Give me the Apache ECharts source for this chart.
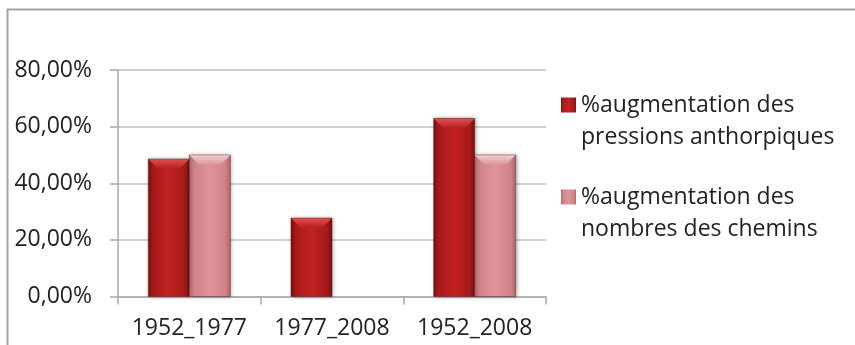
<!DOCTYPE html>
<html><head><meta charset="utf-8">
<script src="https://cdn.jsdelivr.net/npm/echarts@6/dist/echarts.min.js"></script>
<style>html,body{margin:0;padding:0;background:#fff}#c{width:855px;height:345px}</style>
</head><body><div id="c"></div>
<script>
const categories = ['1952_1977', '1977_2008', '1952_2008'];
const seriesNames = ['%augmentation des\npressions anthorpiques', '%augmentation des\nnombres des chemins'];
const pressions = [48.6, 27.7, 62.9];
const chemins = [50.0, 0, 50.0];
const yTicks = [0, 20, 40, 60, 80];

const FONT = 'Open Sans';
const palettes = [
  {body: ['#7a0f0f', '#a51a1a', '#c22222', '#a51a1a', '#7a0f0f'], top: ['#e05252', '#b82323']},
  {body: ['#b0656a', '#cf8287', '#de9599', '#cf8287', '#b0656a'], top: ['#f6cdcf', '#dc9a9e']}
];
function hGrad(c) {
  return new echarts.graphic.LinearGradient(0, 0, 1, 0, [
    {offset: 0, color: c[0]}, {offset: 0.12, color: c[1]}, {offset: 0.5, color: c[2]},
    {offset: 0.88, color: c[3]}, {offset: 1, color: c[4]}]);
}
function vGrad(c) {
  return new echarts.graphic.LinearGradient(0, 0, 0, 1, [
    {offset: 0, color: c[0]}, {offset: 1, color: c[1]}]);
}
function makeRender(si) {
  return function (params, api) {
    const ci = api.value(0), v = api.value(1);
    const base = api.coord([ci, 0]);
    const top = api.coord([ci, v]);
    const bw = api.size([1, 0])[0] * 0.2875;
    const x0 = base[0] + (si === 0 ? -bw : 0);
    const h = base[1] - top[1];
    if (h <= 0.5) return null;
    const b = Math.min(9, h / 2);
    const pal = palettes[si];
    return {
      type: 'group',
      children: [
        {type: 'rect', shape: {x: x0, y: top[1], width: bw, height: h},
         style: {fill: hGrad(pal.body), shadowBlur: 4, shadowOffsetX: 1, shadowOffsetY: 0, shadowColor: 'rgba(0,0,0,0.35)'}},
        {type: 'polygon', shape: {points: [[x0, top[1]], [x0 + bw, top[1]], [x0 + bw - b, top[1] + b], [x0 + b, top[1] + b]]},
         style: {fill: vGrad(pal.top)}},
        {type: 'rect', shape: {x: x0, y: top[1], width: bw, height: h},
         style: {fill: 'none', stroke: 'rgba(60,0,0,0.35)', lineWidth: 1}}
      ]
    };
  };
}
const chart = echarts.init(document.getElementById('c'), null, {renderer: 'canvas'});
chart.setOption({
  animation: false,
  textStyle: {fontFamily: FONT},
  graphic: [{type: 'rect', left: 5, top: 7, shape: {x: 0, y: 0, width: 900, height: 400},
    style: {fill: 'none', stroke: '#a3a3a3', lineWidth: 2}, silent: true}],
  grid: {left: 118, right: 309, top: 70, bottom: 48.5, containLabel: false},
  legend: {
    orient: 'vertical', left: 561, top: 57, padding: 0, itemWidth: 15, itemHeight: 15, itemGap: -4,
    icon: 'rect',
    formatter: name => '\n' + name,
    textStyle: {fontFamily: FONT, fontSize: 23, color: '#222', lineHeight: 32},
    data: seriesNames
  },
  xAxis: {
    type: 'category', data: categories,
    axisLine: {lineStyle: {color: '#a8a8a8', width: 1.5}},
    axisTick: {show: true, alignWithLabel: false, length: 8, lineStyle: {color: '#a8a8a8', width: 1.5}},
    axisLabel: {fontFamily: FONT, fontSize: 23, color: '#222', margin: 20, interval: 0}
  },
  yAxis: {
    type: 'value', min: yTicks[0], max: yTicks[yTicks.length - 1], interval: 20,
    axisLine: {show: true, lineStyle: {color: '#a8a8a8', width: 1.5}},
    axisTick: {show: true, length: 8, lineStyle: {color: '#a8a8a8', width: 1.5}},
    splitLine: {lineStyle: {color: '#c0c0c0', width: 1.5}},
    axisLabel: {fontFamily: FONT, fontSize: 23, color: '#222', margin: 26,
      formatter: v => v.toFixed(2).replace('.', ',') + '%'}
  },
  series: [
    {name: seriesNames[0], type: 'custom', renderItem: makeRender(0),
     itemStyle: {color: hGrad(palettes[0].body)},
     encode: {x: 0, y: 1}, data: pressions.map((v, i) => [i, v])},
    {name: seriesNames[1], type: 'custom', renderItem: makeRender(1),
     itemStyle: {color: hGrad(palettes[1].body)},
     encode: {x: 0, y: 1}, data: chemins.map((v, i) => [i, v])}
  ]
});
</script></body></html>
